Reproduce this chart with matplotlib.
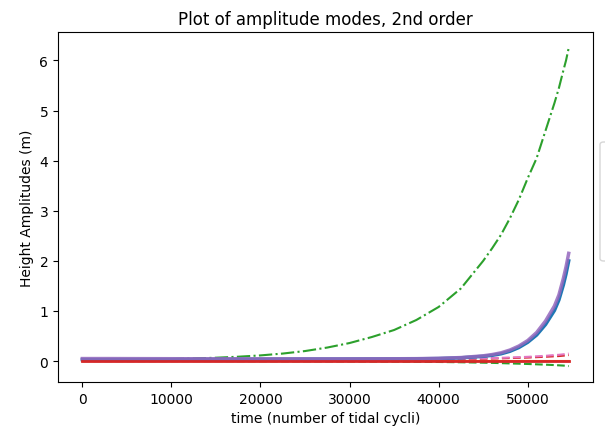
import numpy as np
import matplotlib
matplotlib.use("Agg")
from matplotlib import pyplot as plt
from matplotlib.patches import FancyBboxPatch

# time samples (number of tidal cycles)
t = [0, 2500, 5000, 7500, 10000, 12500, 15000, 17500, 20000, 22500,
     25000, 27500, 30000, 32500, 35000, 37500, 40000, 42500, 45000,
     46000, 47000, 48000, 49000, 50000, 51000, 52000, 53000,
     53500, 54000, 54300, 54600]

# amplitude modes
mode_green_dashdot = [0.015, 0.02, 0.025, 0.032, 0.04, 0.052, 0.067, 0.087, 0.113, 0.15,
                      0.2, 0.27, 0.36, 0.48, 0.62, 0.82, 1.08, 1.45, 2.0,
                      2.25, 2.52, 2.85, 3.22, 3.65, 4.05, 4.6, 5.15,
                      5.45, 5.8, 6.0, 6.25]
mode_blue = [0.03, 0.03, 0.032, 0.033, 0.034, 0.035, 0.036, 0.037, 0.038, 0.039,
             0.04, 0.04, 0.041, 0.042, 0.043, 0.045, 0.05, 0.065, 0.095,
             0.115, 0.145, 0.195, 0.27, 0.375, 0.52, 0.73, 1.01,
             1.22, 1.52, 1.74, 2.0]
mode_purple = [0.05, 0.05, 0.049, 0.048, 0.047, 0.046, 0.045, 0.045, 0.044, 0.044,
               0.044, 0.044, 0.044, 0.045, 0.046, 0.048, 0.055, 0.07, 0.105,
               0.13, 0.165, 0.22, 0.3, 0.41, 0.57, 0.8, 1.1,
               1.32, 1.65, 1.88, 2.15]
mode_orange = [0.005] * len(t)
mode_red = [0.0] * len(t)
mode_pink_dashed = [0.02, 0.02, 0.02, 0.02, 0.02, 0.02, 0.022, 0.022, 0.024, 0.025,
                    0.026, 0.028, 0.03, 0.032, 0.035, 0.038, 0.042, 0.048, 0.056,
                    0.06, 0.065, 0.072, 0.078, 0.085, 0.095, 0.105, 0.12,
                    0.125, 0.135, 0.14, 0.15]
mode_red_dashed = [0.01, 0.01, 0.01, 0.01, 0.012, 0.012, 0.014, 0.015, 0.016, 0.017,
                   0.018, 0.02, 0.022, 0.024, 0.026, 0.03, 0.034, 0.04, 0.047,
                   0.05, 0.054, 0.06, 0.065, 0.07, 0.078, 0.086, 0.095,
                   0.1, 0.108, 0.113, 0.12]
mode_green_dashed = [0.0, 0.0, 0.0, 0.0, 0.0, 0.0, 0.0, -0.002, -0.003, -0.004,
                     -0.005, -0.006, -0.007, -0.009, -0.011, -0.014, -0.018, -0.024, -0.032,
                     -0.036, -0.041, -0.047, -0.052, -0.058, -0.065, -0.072, -0.08,
                     -0.085, -0.09, -0.095, -0.1]

fig = plt.figure(figsize=(6.05, 4.31), dpi=100)
ax = fig.add_axes([0.0959, 0.1114, 0.8843, 0.812])

ax.plot(t, mode_orange, color='C1')
ax.plot(t, mode_green_dashed, color='C2', linestyle='--')
ax.plot(t, mode_red_dashed, color='C3', linestyle='--')
ax.plot(t, mode_pink_dashed, color='C6', linestyle='--')
ax.plot(t, mode_green_dashdot, color='C2', linestyle='-.')
ax.plot(t, mode_blue, color='C0', linewidth=2.5)
ax.plot(t, mode_purple, color='C4', linewidth=2.5, alpha=0.85)
ax.plot(t, mode_red, color='C3', linewidth=2)

ax.set_title('Plot of amplitude modes, 2nd order')
ax.set_xlabel('time (number of tidal cycli)')
ax.set_ylabel('Height Amplitudes (m)')

# legend box sitting outside the axes, cut off by the figure edge
fig.patches.append(FancyBboxPatch((600 / 605, (431 - 262) / 431), 0.2, 119 / 431,
                                  boxstyle='round,pad=0,rounding_size=0.006',
                                  transform=fig.transFigure, facecolor='white',
                                  edgecolor='#d6d6d6', linewidth=1, figure=fig))

fig.savefig('out.png', dpi=100)
